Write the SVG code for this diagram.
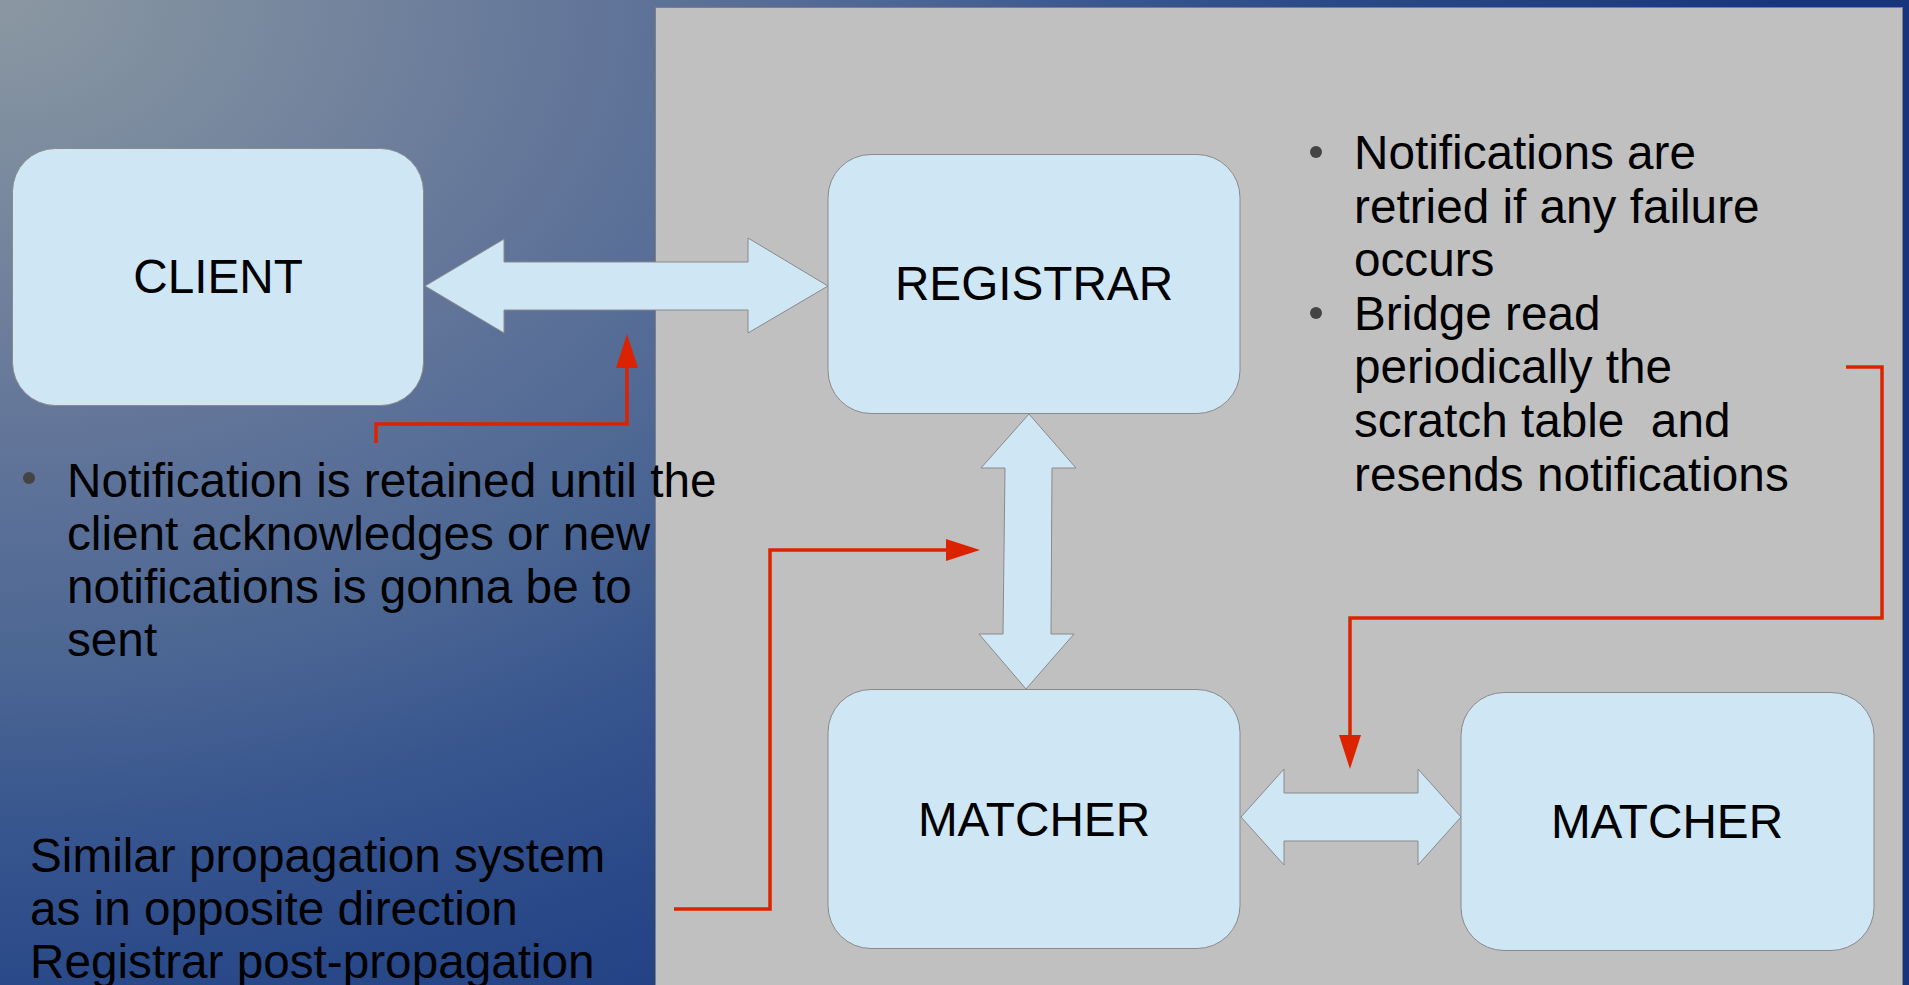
<svg xmlns="http://www.w3.org/2000/svg" width="1909" height="985" viewBox="0 0 1909 985">
  <style>
    .node rect { fill: #cfe6f4; stroke: #8a8a8a; stroke-width: 1; }
    .label { font-family: "Liberation Sans", Arial, sans-serif; font-size: 47.7px; fill: #000; }
    .node text { text-anchor: middle; }
    .big-arrow { fill: #cfe6f4; stroke: #8a8a8a; stroke-width: 1; stroke-linejoin: miter; }
    .flow { fill: none; stroke: #dc2300; stroke-width: 3.5; }
    .bullet { fill: #444; }
    .pre { white-space: pre; }
  </style>
  <defs>
    <!-- elliptical backdrop shading, spreading wider than tall from the top-left corner -->
    <radialGradient id="bg" gradientUnits="userSpaceOnUse" cx="0" cy="0" r="1320" gradientTransform="scale(1.36 1)">
      <stop offset="0" stop-color="#8b98a2"/>
      <stop offset="0.333" stop-color="#627599"/>
      <stop offset="0.515" stop-color="#4a6593"/>
      <stop offset="0.629" stop-color="#37558e"/>
      <stop offset="0.746" stop-color="#2a4988"/>
      <stop offset="1" stop-color="#17357f"/>
    </radialGradient>
    <marker id="head" markerUnits="userSpaceOnUse" markerWidth="36" markerHeight="24" refX="0" refY="11" orient="auto" overflow="visible">
      <path d="M0,0 L34,11 L0,22 Z" fill="#dc2300"/>
    </marker>
  </defs>

  <!-- backdrop and work panel -->
  <rect x="0" y="0" width="1909" height="985" fill="url(#bg)"/>
  <rect x="655.5" y="7.5" width="1247" height="1000" fill="#c0c0c0" stroke="#7f7f7f" stroke-width="1"/>

  <!-- block arrows and notification paths -->
  <g id="connectors">
    <polygon class="big-arrow" points="425,286 504,239 504,262 748,262 748,238 828,286 748,333 748,310 504,310 504,333"/>
    <polygon class="big-arrow" points="1029,414 1076,468 1052,468 1051,634 1074,634 1026,689 979,634 1003,634 1005,468 981,468"/>
    <polygon class="big-arrow" points="1241,817 1284,769 1284,793 1418,793 1418,769 1461,817 1418,865 1418,841 1284,841 1284,865"/>
    <path class="flow" d="M376,443 V424 H627 V368" marker-end="url(#head)"/>
    <path class="flow" d="M674,909 H770 V550 H946" marker-end="url(#head)"/>
    <path class="flow" d="M1846,367 H1882 V618 H1350 V735" marker-end="url(#head)"/>
  </g>

  <g id="client" class="node">
    <rect x="12.5" y="148.5" width="411" height="257" rx="43" ry="43"/>
    <text class="label" x="218" y="293">CLIENT</text>
  </g>

  <g id="registrar" class="node">
    <rect x="828" y="154.5" width="412" height="259" rx="43" ry="43"/>
    <text class="label" x="1034" y="300">REGISTRAR</text>
  </g>

  <g id="matcher-a" class="node">
    <rect x="828" y="689.5" width="412" height="259" rx="43" ry="43"/>
    <text class="label" x="1034" y="836">MATCHER</text>
  </g>

  <g id="matcher-b" class="node">
    <rect x="1461" y="692.5" width="413" height="258" rx="43" ry="43"/>
    <text class="label" x="1667" y="838">MATCHER</text>
  </g>

  <!-- notes -->
  <g id="note-retained">
    <circle class="bullet" cx="29" cy="478" r="6"/>
    <text class="label" x="67" y="497">Notification is retained until the</text>
    <text class="label" x="67" y="550">client acknowledges or new</text>
    <text class="label" x="67" y="603">notifications is gonna be to</text>
    <text class="label" x="67" y="656">sent</text>
  </g>

  <g id="note-retry">
    <circle class="bullet" cx="1316" cy="152" r="6"/>
    <text class="label" x="1354" y="169">Notifications are</text>
    <text class="label" x="1354" y="223">retried if any failure</text>
    <text class="label" x="1354" y="276">occurs</text>
    <circle class="bullet" cx="1316" cy="313" r="6"/>
    <text class="label" x="1354" y="330">Bridge read</text>
    <text class="label" x="1354" y="383">periodically the</text>
    <text class="label pre" x="1354" y="437">scratch table  and</text>
    <text class="label" x="1354" y="491">resends notifications</text>
  </g>

  <g id="note-reverse">
    <text class="label" x="30" y="872">Similar propagation system</text>
    <text class="label" x="30" y="925">as in opposite direction</text>
    <text class="label" x="30" y="978">Registrar post-propagation</text>
  </g>
</svg>
